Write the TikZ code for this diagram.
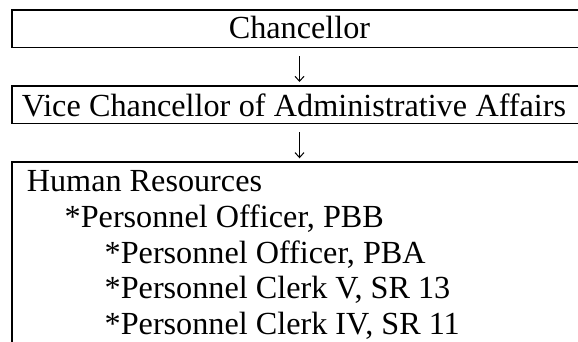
\documentclass[tikz,border=0pt]{standalone}
\usepackage{fontspec}
\setmainfont{Liberation Serif}
\usetikzlibrary{arrows.meta}
\begin{document}
\begin{tikzpicture}[x=1pt,y=1pt,
  orgbox/.style={draw, line width=1.8pt, inner sep=0pt, outer sep=0pt, anchor=north west, minimum width=600pt},
  lbl/.style={font=\fontsize{32.2}{36}\selectfont, inner sep=0pt, anchor=base},
  item/.style={font=\fontsize{32.2}{36}\selectfont, inner sep=0pt, anchor=base west},
  arr/.style={line width=1pt, -{Straight Barb[length=5pt,width=9pt]}}]
\useasboundingbox (0,0) rectangle (578,341);
\clip (0,0) rectangle (578,341);
\node[orgbox, minimum height=37.5pt] (cbox) at (12.3,331) {};
\node[lbl] (ctext) at (299.5,302.7) {Chancellor};
\node[orgbox, minimum height=37.5pt] (vbox) at (12.3,255) {};
\node[lbl] (vtext) at (294,225) {Vice\hspace{0.3pt} Chancellor\hspace{0.3pt} of\hspace{0.3pt} Administrative\hspace{0.3pt} Affairs};
\node[orgbox, minimum height=250pt] (hbox) at (12.3,178.7) {};
\node[item] (h0) at (26.7,149.3) {Human Resources};
\node[item] (h1) at (64.5,113.7) {*Personnel Officer, PBB};
\node[item] (h2) at (104.5,77.9) {*Personnel Officer, PBA};
\node[item] (h3) at (104.5,42.1) {*Personnel Clerk V, SR 13};
\node[item] (h4) at (104.5,6.3) {*Personnel Clerk IV, SR 11};
\draw[arr, shorten <=8.5pt, shorten >=4pt] (ctext.south |- cbox.south) -- (ctext.south |- vbox.north);
\draw[arr, shorten <=8.5pt, shorten >=4pt] (ctext.south |- vbox.south) -- (ctext.south |- hbox.north);
\end{tikzpicture}
\end{document}
